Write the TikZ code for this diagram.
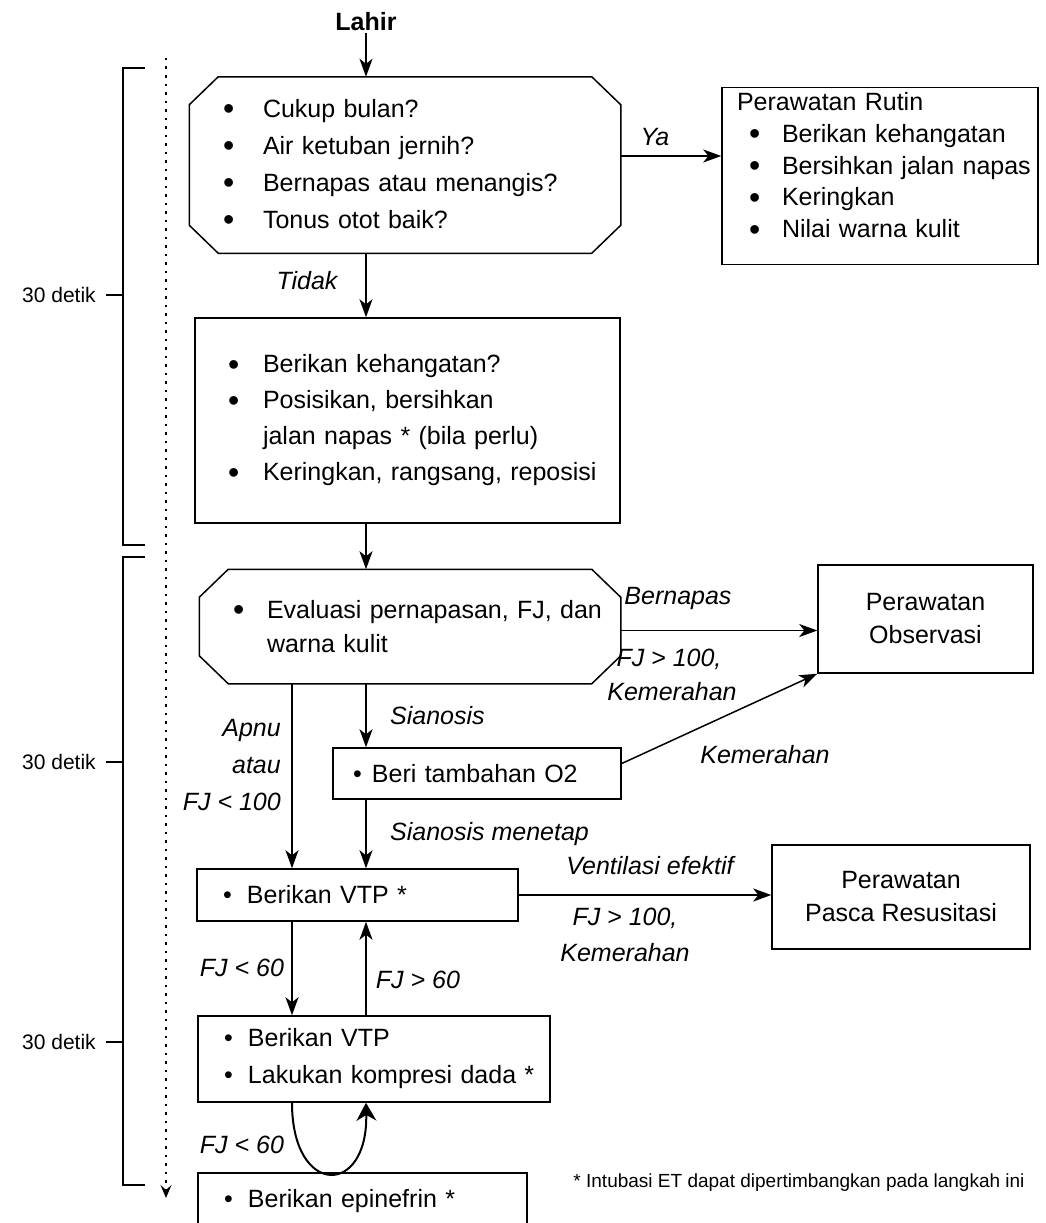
\documentclass[tikz,border=0pt]{standalone}
\usepackage{fontspec}
\setmainfont{Liberation Sans}
\usetikzlibrary{arrows.meta}
\newcommand{\bigdot}{\raisebox{-2.5pt}{\fontsize{32}{32}\selectfont\textbullet}}
\newcommand{\itm}[2]{\mbox{\makebox[#1][l]{\textbullet}#2}}
\newcommand{\itmb}[2]{\mbox{\makebox[#1][l]{\bigdot}#2}}
\newcommand{\itmr}[1]{\mbox{\hspace*{12pt}\makebox[33pt][l]{\bigdot}#1}}
% octagon outline round a node
\newcommand{\octa}[1]{\draw[line width=1.5pt] ([xshift=29pt]#1.north west) -- ([xshift=-29pt]#1.north east)
  -- ([yshift=-28pt]#1.north east) -- ([yshift=28pt]#1.south east) -- ([xshift=-29pt]#1.south east)
  -- ([xshift=29pt]#1.south west) -- ([yshift=28pt]#1.south west) -- ([yshift=-28pt]#1.north west) -- cycle;}

\begin{document}
\begin{tikzpicture}[x=1pt, y=-1pt,
    box/.style={draw, line width=1.5pt, align=left, inner ysep=0pt, font=\fontsize{25}{37}\selectfont},
    oct/.style={box, draw=none},
    lbl/.style={inner sep=0pt, font=\fontsize{25}{37}\selectfont\itshape},
    arr/.style={line width=1.5pt, -{Stealth[length=18pt, width=13pt, inset=5pt]}},
    brk/.style={line width=2pt},
    note/.style={inner sep=0pt, font=\fontsize{19}{23}\selectfont}
  ]
  \useasboundingbox (0,0) rectangle (1046,1223);

  % Columns
  \coordinate (colL) at (292,0);

  % Boxes
  \node[inner sep=2pt, font=\fontsize{25}{30}\selectfont\bfseries] (lahir) at (366,22) {Lahir};
  \node[oct, minimum width=430pt, minimum height=175pt, text width=364pt, inner xsep=32pt] (q1) at (405,165)
    {\itmb{40pt}{Cukup bulan?}\\ \itmb{40pt}{Air ketuban jernih?}\\ \itmb{40pt}{Bernapas atau menangis?}\\ \itmb{40pt}{Tonus otot baik?}};
  \octa{q1}
  \node[box, font=\fontsize{25}{31.75}\selectfont, minimum width=316pt, minimum height=177pt, text width=286pt, inner xsep=15pt] (rutin) at (880,176)
    {Perawatan Rutin\\ \itmr{Berikan kehangatan}\\ \itmr{Bersihkan jalan napas}\\ \itmr{Keringkan}\\ \itmr{Nilai warna kulit}\rule[-22pt]{0pt}{0pt}};
  \node[box, font=\fontsize{25}{36}\selectfont, minimum width=425pt, minimum height=205pt, text width=359pt, inner xsep=32pt] (b2) at (407.5,420.5)
    {\itmb{35pt}{Berikan kehangatan?}\\ \itmb{35pt}{Posisikan, bersihkan}\\ \mbox{\hspace*{35pt}jalan napas * (bila perlu)}\\ \itmb{35pt}{Keringkan, rangsang, reposisi}};
  \node[oct, font=\fontsize{25}{34}\selectfont, minimum width=420pt, minimum height=113pt, text width=354pt, inner xsep=33pt] (q3) at (410,626.5)
    {\itmb{34pt}{Evaluasi pernapasan, FJ, dan}\\ \mbox{\hspace*{34pt}warna kulit}};
  \octa{q3}
  \node[box, align=center, font=\fontsize{25}{33}\selectfont, minimum width=215pt, minimum height=108pt] (obs) at (925.5,619)
    {Perawatan\\Observasi};
  \node[box, minimum width=288pt, minimum height=51pt, text width=248pt, inner xsep=20pt] (o2) at (477,773.5)
    {\itm{19pt}{Beri tambahan O2}};
  \node[box, minimum width=321pt, minimum height=52pt, text width=269pt, inner xsep=26pt] (vtp) at (357.5,895)
    {\itm{24pt}{Berikan VTP *}};
  \node[box, align=center, font=\fontsize{25}{33}\selectfont, minimum width=258pt, minimum height=104pt] (pasca) at (901,897)
    {Perawatan\\Pasca Resusitasi};
  \node[box, minimum width=352pt, minimum height=86pt, text width=300pt, inner xsep=26pt] (comp) at (374,1059)
    {\itm{24pt}{Berikan VTP}\\ \itm{24pt}{Lakukan kompresi dada *}};
  \node[box, minimum width=329pt, minimum height=57pt, text width=277pt, inner xsep=26pt] (epi) at (362.5,1201.5)
    {\itm{24pt}{Berikan epinefrin *}};

  % Arrows
  \draw[arr] (lahir) -- (q1.north -| lahir);
  \draw[arr] ([yshift=9pt]q1.east) -- ([yshift=9pt]q1.east -| rutin.west);
  \draw[arr] (q1.south -| lahir) -- (b2.north -| lahir);
  \draw[arr] (b2.south -| lahir) -- (q3.north -| lahir);
  \draw[arr] ([yshift=-4pt]q3.east) -- ([yshift=-4pt]q3.east -| obs.west);
  \draw[arr] ([yshift=10pt]o2.east) -- (obs.south west);
  \draw[arr] (q3.south -| colL) -- (vtp.north -| colL);
  \draw[arr] (q3.south -| lahir) -- (o2.north -| lahir);
  \draw[arr] (o2.south -| lahir) -- (vtp.north -| lahir);
  \draw[arr] (vtp.east) -- (vtp.east -| pasca.west);
  \draw[arr] (vtp.south -| colL) -- (comp.north -| colL);
  \draw[arr] (comp.north -| lahir) -- (vtp.south -| lahir);
  \draw[line width=2pt, -{Stealth[length=18pt, width=20pt]}] (comp.south -| colL)
    .. controls (292,1197) and (368,1197) .. (comp.south -| lahir);

  % Labels
  \node[lbl] (ya) at (655,137) {Ya};
  \node[lbl] (tidak) at (307,281) {Tidak};
  \node[lbl] (bernapas) at (678,598) {Bernapas};
  \node[lbl] (fja) at (669,659) {FJ > 100,};
  \node[lbl] (kema) at (672,692) {Kemerahan};
  \node[lbl] (kemb) at (765,755) {Kemerahan};
  \node[lbl, anchor=east, align=right] (apnu) at (281,765) {Apnu\\atau\\FJ < 100};
  \node[lbl, anchor=west] (sian) at (390,716) {Sianosis};
  \node[lbl, anchor=west] (sianm) at (390,834) {Sianosis menetap};
  \node[lbl] (vent) at (650,866) {Ventilasi efektif};
  \node[lbl] (fjb) at (625,918) {FJ > 100,};
  \node[lbl] (kemc) at (625,953) {Kemerahan};
  \node[lbl] (lta) at (242,968) {FJ < 60};
  \node[lbl] (gt) at (418,980) {FJ > 60};
  \node[lbl] (ltb) at (242,1145) {FJ < 60};
  \node[note] (catatan) at (799,1183) {* Intubasi ET dapat dipertimbangkan pada langkah ini};

  % Timeline
  \draw[line width=2.5pt, dash pattern=on 2.5pt off 6pt, -{Stealth[length=13pt, width=11pt, inset=5pt]}] (166,58) -- (166,1198);
  \draw[brk] (145,68) -- (123,68) -- (123,545) -- (145,545);
  \draw[brk] (145,557) -- (123,557) -- (123,864);
  \draw[brk] (123,864) -- (123,1185) -- (145,1185);
  \draw[brk] (106,295) -- (123,295);
  \draw[brk] (106,762) -- (123,762);
  \draw[brk] (106,1042) -- (123,1042);
  \node[note, font=\fontsize{21}{24}\selectfont] (d1) at (59,295) {30 detik};
  \node[note, font=\fontsize{21}{24}\selectfont] (d2) at (59,762) {30 detik};
  \node[note, font=\fontsize{21}{24}\selectfont] (d3) at (59,1042) {30 detik};
\end{tikzpicture}
\end{document}
